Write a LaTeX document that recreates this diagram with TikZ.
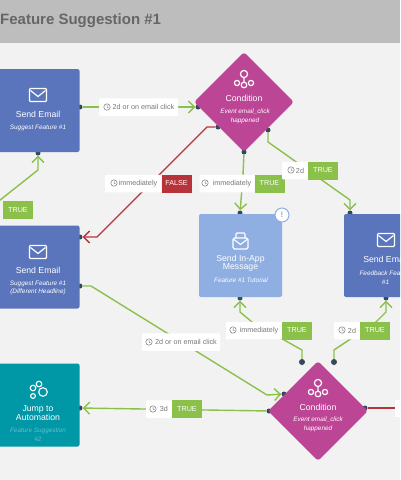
\documentclass[tikz,border=0pt]{standalone}
\usepackage{fontspec}
\setmainfont{Liberation Sans}
\usetikzlibrary{arrows.meta,positioning,shapes.geometric,calc}
\definecolor{pagegray}{HTML}{F2F2F2}
\definecolor{headgray}{HTML}{BDBDBD}
\definecolor{titlegray}{HTML}{666666}
\definecolor{mailblue}{HTML}{5A75BC}
\definecolor{appblue}{HTML}{8FAEE2}
\definecolor{jumpteal}{HTML}{0097A7}
\definecolor{jumptext}{HTML}{62C0CC}
\definecolor{condpink}{HTML}{BC4595}
\definecolor{linegreen}{HTML}{8BC14B}
\definecolor{linered}{HTML}{B8323A}
\definecolor{dotdark}{HTML}{34495E}
\definecolor{delaygray}{HTML}{777777}

\begin{document}
\begin{tikzpicture}[x=1pt,y=-1pt,
  box/.style={rounded corners=2pt,minimum width=83pt,minimum height=83pt,inner sep=0pt},
  dm/.style={diamond,aspect=1,fill=condpink,rounded corners=3pt,minimum width=100pt,minimum height=100pt,inner sep=0pt},
  ttl/.style={text=white,align=center,font=\fontsize{8.7}{8.2}\selectfont,inner sep=0pt},
  sub/.style={text=white,align=center,font=\fontsize{6.4}{8.8}\selectfont\itshape,inner sep=0pt},
  dot/.style={circle,fill=dotdark,minimum size=5pt,inner sep=0pt},
  dl/.style={fill=white,rounded corners=1pt,minimum height=17.5pt,inner sep=0pt,font=\fontsize{7.2}{8}\selectfont,text=delaygray},
  yes/.style={fill=linegreen,text=white,minimum width=30pt,minimum height=18pt,inner sep=0pt,font=\fontsize{7.2}{8}\selectfont},
  no/.style={fill=linered,text=white,minimum width=30pt,minimum height=18pt,inner sep=0pt,font=\fontsize{7.2}{8}\selectfont},
  gr/.style={linegreen,line width=1.4pt,-{Straight Barb[length=6pt,width=12pt,line width=1.4pt]}},
  rd/.style={linered,line width=1.4pt,-{Straight Barb[length=6pt,width=12pt,line width=1.4pt]}},
  mail/.pic={\draw[white,line width=1.2pt,rounded corners=1pt] (-8.5,-6.5) rectangle (8.5,6.5);
    \draw[white,line width=1.2pt] (-7.5,-4.5) -- (0,1.5) -- (7.5,-4.5);},
  cond/.pic={\draw[white,line width=1.2pt] (0,-7) circle (3.6) (-7,2) circle (2.6) (0,4) circle (2.8) (7,2) circle (2.6) (0,-3.4) -- (0,1.2);},
  clk/.pic={\draw[delaygray,line width=0.5pt] (0,0) circle (3.2);
    \draw[delaygray,line width=0.5pt] (0,-2) -- (0,0) -- (1.5,0.8);}]
\clip (0,0) rectangle (400,480);
\fill[pagegray] (0,0) rectangle (400,480);
\node[fill=headgray,minimum width=400pt,minimum height=43pt,inner sep=0pt] (head) at (200,21.5) {};
\node[anchor=west,inner sep=0pt,text=titlegray,font=\fontsize{15}{15}\selectfont\bfseries] (title) at (0,21) {Feature Suggestion \#1};
% dots sit under the edges of the shapes
\node[dot] (mailaout) at (80,107) {};
\node[dot] (mailain) at (38,153) {};
\node[dot] (mailbin) at (80,237) {};
\node[dot] (mailbout) at (80,286) {};
\node[dot] (jumpin) at (80,408) {};
\node[dot] (condain) at (198,107) {};
\node[dot] (condano) at (218,127) {};
\node[dot] (condaimm) at (244,152) {};
\node[dot] (condatwo) at (268,130) {};
\node[dot] (appin) at (240,213) {};
\node[dot] (appout) at (240,298) {};
\node[dot] (feedin) at (350,213) {};
\node[dot] (feedout) at (386,298) {};
\node[dot] (condbleft) at (269,411) {};
\node[dot] (condbin) at (284,394) {};
\node[dot] (condbout) at (365,408) {};
\node[dot,minimum size=6pt] (freea) at (302,362) {};
\node[dot,minimum size=6pt] (freeb) at (334,362) {};
% shapes
\node[box,fill=mailblue] (maila) at (38,110.5) {};
\node[box,fill=mailblue] (mailb) at (38,267) {};
\node[box,fill=jumpteal] (jump) at (38,405) {};
\node[box,fill=appblue] (app) at (240.5,255.5) {};
\node[box,fill=mailblue] (feed) at (385.5,255.5) {};
\node[dm] (conda) at (244,102) {};
\node[dm] (condb) at (318,411) {};
\node[circle,fill=white,draw=appblue,line width=1pt,minimum size=14pt,inner sep=0pt,text=appblue,font=\fontsize{8}{8}\selectfont\bfseries] (warn) at (282,215) {!};
% icons
\pic at (38,95) {mail};
\pic at (38,252) {mail};
\pic at (386,240) {mail};
\pic at (244,81) {cond};
\pic at (318,390) {cond};
\draw[white,line width=1.1pt,rounded corners=1pt] (236,238) -- (236,233) -- (245,233) -- (245,238);
\draw[white,line width=1.1pt,rounded corners=1.5pt] (233,238) rectangle (248,249);
\draw[white,line width=1.1pt] (234,239.5) -- (240.5,244.5) -- (247,239.5);
\draw[white,line width=1.1pt] (39,384) circle (2.8) (33,388) circle (2.8) (43,392) circle (4.3) (33,396) circle (2.4);
% texts
\node[ttl] (mailatx) at (38,114) {Send Email};
\node[sub] (mailasb) at (38,127.5) {Suggest Feature \#1};
\node[ttl] (mailbtx) at (38,270) {Send Email};
\node[sub] (mailbsb) at (38,288) {Suggest Feature \#1\\(Different Headline)};
\node[ttl] (jumptx) at (38,413) {Jump to\\Automation};
\node[sub,text=jumptext] (jumpsb) at (38,434.5) {Feature Suggestion\\\#2};
\node[ttl] (apptx) at (240.5,263) {Send In-App\\Message};
\node[sub] (appsb) at (241,280.5) {Feature \#1 Tutorial};
\node[ttl] (feedtx) at (385.5,259) {Send Email};
\node[sub] (feedsb) at (385.5,277.5) {Feedback Feature\\\#1};
\node[ttl] (condatx) at (244,98) {Condition};
\node[sub] (condasb) at (245,116) {Event email\_click\\happened};
\node[ttl] (condbtx) at (318,407) {Condition};
\node[sub] (condbsb) at (318,424) {Event email\_click\\happened};
% connectors
\coordinate (offa) at (-10,208);
\coordinate (benda) at (38,170);
\coordinate (bendb) at (207,127);
\coordinate (bendc) at (97,237);
\coordinate (bendd) at (243,175);
\coordinate (bende) at (268,142);
\coordinate (bendf) at (350,200);
\coordinate (bendg) at (91,286);
\coordinate (bendh) at (267,395);
\coordinate (bendi) at (302,350);
\coordinate (bendj) at (252,322);
\coordinate (bendk) at (240,312);
\coordinate (bendl) at (334,350);
\coordinate (bendm) at (376,322);
\coordinate (bendn) at (386,312);
\coordinate (offb) at (400,408);
\draw[gr] (offa) -- (benda) -- (mailain);
\draw[gr] (mailaout) -- (condain);
\draw[rd] (condano) -- (bendb) -- (bendc) -- (mailbin);
\draw[gr] (condaimm) -- (bendd) -- (appin);
\draw[gr] (condatwo) -- (bende) -- (bendf) -- (feedin);
\draw[gr] (mailbout) -- (bendg) -- (bendh) -- (condbin);
\draw[gr] (condbleft) -- (jumpin);
\draw[gr] (freea) -- (bendi) -- (bendj) -- (bendk) -- (appout);
\draw[gr] (freeb) -- (bendl) -- (bendm) -- (bendn) -- (feedout);
\draw[linered,line width=1.4pt] (condbout) -- (offb);
% delay labels
\node[dl,minimum width=79pt] (dla) at (138.5,107) {\hspace{10pt}2d or on email click};
\node[dl,minimum width=56pt] (dlb) at (133,183.5) {\hspace{10pt}immediately};
\node[no] (flb) at (176.5,183.5) {FALSE};
\node[dl,minimum width=55pt] (dlc) at (227,183.5) {\hspace{10pt}immediately};
\node[yes] (trc) at (269.5,183.5) {TRUE};
\node[dl,minimum width=26pt] (dld) at (295,170.5) {\hspace{10pt}2d};
\node[yes] (trd) at (323,170.5) {TRUE};
\node[yes] (tra) at (18,210) {TRUE};
\node[dl,minimum width=78pt] (dle) at (181,342) {\hspace{10pt}2d or on email click};
\node[dl,minimum width=56pt] (dlf) at (254,330.5) {\hspace{10pt}immediately};
\node[yes] (trf) at (297,330.5) {TRUE};
\node[dl,minimum width=26pt] (dlg) at (347,330.5) {\hspace{10pt}2d};
\node[yes] (trg) at (375,330.5) {TRUE};
\node[dl,minimum width=26pt] (dlh) at (159,409) {\hspace{10pt}3d};
\node[yes] (trh) at (187,409) {TRUE};
\node[fill=white,minimum width=10pt,minimum height=17pt,inner sep=0pt] (dli) at (400,408) {};
% clocks
\pic at (107,107) {clk};
\pic at (114,183) {clk};
\pic at (205,183) {clk};
\pic at (291,170) {clk};
\pic at (149,342) {clk};
\pic at (233,330) {clk};
\pic at (342,330) {clk};
\pic at (153,409) {clk};
\end{tikzpicture}
\end{document}
